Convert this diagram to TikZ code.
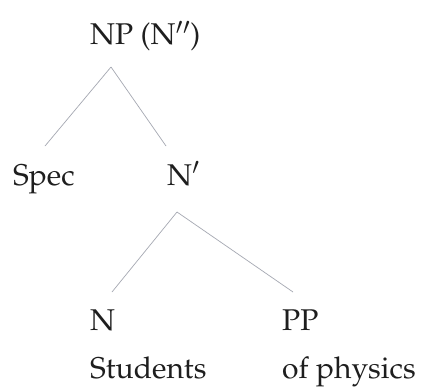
\documentclass[tikz,border=0pt]{standalone}
\usepackage[T1]{fontenc}
\usepackage{mathpazo}
\usepackage{xcolor}
\usetikzlibrary{positioning}

\definecolor{inkgray}{RGB}{30,30,30}
\definecolor{branchgray}{RGB}{165,168,178}

\begin{document}
\begin{tikzpicture}[x=1pt, y=-1pt,
    lab/.style={anchor=base west, inner sep=0pt, text=inkgray,
      font=\fontsize{30}{36}\selectfont},
    branch/.style={draw=branchgray, line width=0.7pt}]

  \useasboundingbox[fill=white] (0,0) rectangle (421,388);

  % Define coordinates for nodes
  \node[lab] (np) at (90, 45) {NP (N$''$)};
  \node[lab] (spec) at (13, 185) {Spec};
  \node[lab] (nbar) at (167, 185) {N$'$};
  \node[lab] (n) at (90, 330) {N};
  \node[lab] (pp) at (282, 330) {PP};
  \node[lab] (stud) at (90, 378) {Students};
  \node[lab] (phys) at (282, 378) {of physics};

  % Draw branches between nodes
  \draw[branch] ([xshift=21pt, yshift=-22pt]np.base west) -- ([xshift=32pt, yshift=39pt]spec.base west);
  \draw[branch] ([xshift=21pt, yshift=-22pt]np.base west) -- ([xshift=-1pt, yshift=39pt]nbar.base west);
  \draw[branch] ([xshift=10pt, yshift=-27pt]nbar.base west) -- ([xshift=22pt, yshift=38pt]n.base west);
  \draw[branch] ([xshift=10pt, yshift=-27pt]nbar.base west) -- ([xshift=11pt, yshift=38pt]pp.base west);
\end{tikzpicture}
\end{document}
